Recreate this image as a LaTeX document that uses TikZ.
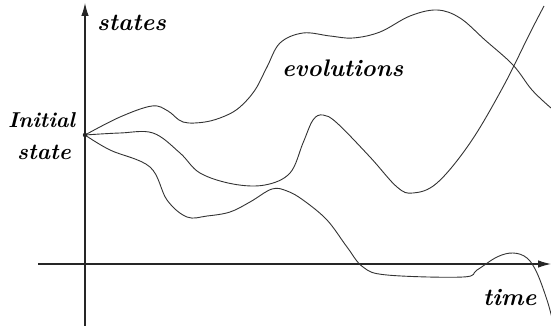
\documentclass[tikz,border=0pt]{standalone}
\usepackage{fontspec}
\setmainfont{Latin Modern Roman}
\usetikzlibrary{arrows.meta}
\begin{document}
\begin{tikzpicture}[x=1pt,y=-1pt,
  axis/.style={line width=1.1pt,draw=black!85,-{Latex[length=13pt,width=7.5pt]}},
  evo/.style={line width=0.9pt,draw=black!80},
  lbl/.style={inner sep=0pt,font=\fontsize{24}{28}\selectfont\bfseries\itshape}]
\useasboundingbox (0,0) rectangle (551,326);
\coordinate (ybot) at (85,326);
\coordinate (ytop) at (85,3);
\coordinate (xleft) at (38,264);
\coordinate (xright) at (551,264);
\coordinate (init) at (85,135);
\draw[axis] (ybot) -- (ytop);
\draw[axis] (xleft) -- (xright);
% curve 1
\draw[evo] plot[smooth,tension=0.6] coordinates {(init) (120,117) (152,106) (168,111) (183,122) (205,122) (225,116) (240,107) (255,90) (267,67) (280,43) (303,33) (330,36) (353,38) (380,32) (410,16) (437,10) (460,18) (485,40) (513,65) (532,90) (551,108)};
% curve 2
\draw[evo] plot[smooth,tension=0.6] coordinates {(init) (120,133) (153,133) (180,153) (200,173) (233,184) (265,185) (290,173) (303,143) (313,120) (323,115) (337,123) (370,157) (397,187) (413,193) (437,183) (470,143) (503,87) (530,33) (544,6)};
% curve 3
\draw[evo] plot[smooth,tension=0.6] coordinates {(init) (110,150) (150,167) (167,200) (187,217) (207,216) (230,212) (250,202) (272,189) (287,191) (303,200) (327,220) (347,247) (363,267) (387,275) (463,277) (477,270) (497,257) (513,253) (527,258) (537,273) (547,300) (552,318)};
\fill[black!85] (init) circle (2.2);
\node[lbl,anchor=base west] (states) at (97,31) {states};
\node[lbl,anchor=base west,font=\fontsize{21.5}{26}\selectfont\bfseries\itshape] (initial) at (8,128) {Initial};
\node[lbl,anchor=base west,font=\fontsize{22.5}{26}\selectfont\bfseries\itshape] (state) at (17,159) {state};
\node[lbl,anchor=base west] (evolutions) at (282,77) {evolutions};
\node[lbl,anchor=base west] (time) at (483,305) {time};
\end{tikzpicture}
\end{document}
